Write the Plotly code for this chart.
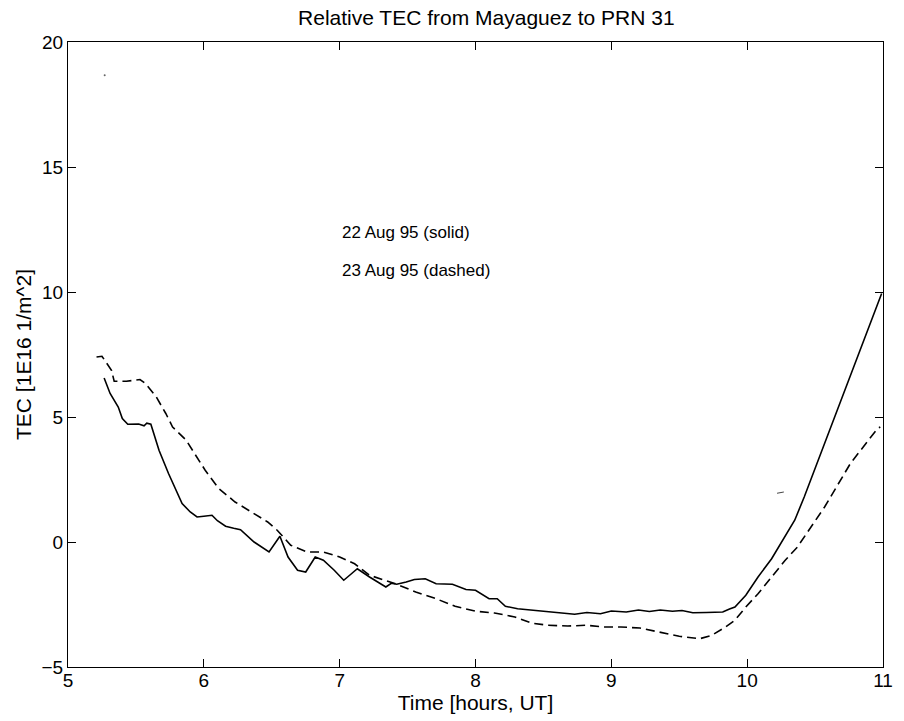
import plotly.graph_objects as go

# 22 Aug 95 (solid)
t_solid = [5.266, 5.31, 5.37, 5.40, 5.44, 5.52, 5.56, 5.58, 5.61, 5.67, 5.74, 5.84, 5.90, 5.95,
           6.00, 6.06, 6.10, 6.16, 6.22, 6.27, 6.37, 6.48, 6.56, 6.62, 6.69, 6.75, 6.82, 6.88,
           6.96, 7.03, 7.08, 7.13, 7.22, 7.34, 7.38, 7.42, 7.49, 7.55, 7.63, 7.71, 7.83, 7.93,
           8.00, 8.10, 8.16, 8.22, 8.31, 8.48, 8.60, 8.73, 8.82, 8.92, 9.00, 9.11, 9.20, 9.28,
           9.36, 9.45, 9.52, 9.60, 9.70, 9.82, 9.87, 9.91,
           9.99, 10.08, 10.18, 10.28, 10.35, 10.42, 10.57, 10.74, 10.99]
v_solid = [6.56, 5.94, 5.4, 4.94, 4.71, 4.72, 4.65, 4.75, 4.71, 3.67, 2.74, 1.54, 1.2, 1.0,
           1.03, 1.07, 0.85, 0.63, 0.55, 0.49, 0.0, -0.4, 0.23, -0.6, -1.13, -1.2, -0.6, -0.73,
           -1.13, -1.53, -1.3, -1.07, -1.4, -1.8, -1.65, -1.69, -1.6, -1.5, -1.47, -1.67, -1.69, -1.9,
           -1.93, -2.27, -2.27, -2.57, -2.67, -2.76, -2.84, -2.89, -2.82, -2.87, -2.76, -2.8, -2.72, -2.78,
           -2.72, -2.77, -2.74, -2.83, -2.82, -2.8, -2.68, -2.6,
           -2.13, -1.4, -0.67, 0.27, 0.87, 1.8, 3.94, 6.34, 9.94]

# 23 Aug 95 (dashed)
t_dashed = [5.21, 5.25, 5.32, 5.34, 5.43, 5.53, 5.57, 5.65, 5.72, 5.77, 5.87, 5.94, 6.01, 6.11,
            6.23, 6.35, 6.47, 6.54, 6.64, 6.76, 6.88, 7.00, 7.11, 7.22, 7.31, 7.42, 7.56, 7.71,
            7.85, 8.00, 8.14, 8.29, 8.41, 8.53, 8.68, 8.82, 8.94, 9.07, 9.21, 9.36, 9.50, 9.65,
            9.74, 9.84, 9.91, 9.99, 10.08, 10.18, 10.28, 10.37, 10.47, 10.57, 10.76, 10.96, 10.98]
v_dashed = [7.4, 7.43, 6.87, 6.43, 6.43, 6.5, 6.34, 5.8, 5.14, 4.6, 4.07, 3.47, 2.87, 2.14,
            1.6, 1.2, 0.8, 0.47, -0.13, -0.4, -0.4, -0.6, -0.87, -1.33, -1.49, -1.69, -2.0, -2.27,
            -2.57, -2.77, -2.84, -3.0, -3.24, -3.33, -3.36, -3.33, -3.4, -3.4, -3.44, -3.6, -3.77, -3.87,
            -3.73, -3.4, -3.13, -2.6, -2.07, -1.4, -0.73, -0.2, 0.6, 1.4, 3.14, 4.54, 4.6]

# stray marks in the original
t_stray = [10.22, 10.27]
v_stray = [1.95, 2.0]
t_dot = [5.27]
v_dot = [18.67]

x_ticks = [5, 6, 7, 8, 9, 10, 11]
y_ticks = [-5, 0, 5, 10, 15, 20]

font = "Liberation Sans, Arial, sans-serif"

fig = go.Figure()
fig.add_trace(go.Scatter(x=t_solid, y=v_solid, mode="lines",
                         line=dict(color="black", width=1.6), showlegend=False))
fig.add_trace(go.Scatter(x=t_dashed, y=v_dashed, mode="lines",
                         line=dict(color="black", width=1.6, dash="9px,5px"), showlegend=False))
fig.add_trace(go.Scatter(x=t_stray, y=v_stray, mode="lines",
                         line=dict(color="#444", width=1), showlegend=False))
fig.add_trace(go.Scatter(x=t_dot, y=v_dot, mode="markers",
                         marker=dict(color="#666", size=2), showlegend=False))

fig.add_annotation(x=7.0, y=12.4, text="22 Aug 95 (solid)", showarrow=False,
                   xanchor="left", yanchor="middle", font=dict(size=17, color="black", family=font))
fig.add_annotation(x=7.0, y=10.87, text="23 Aug 95 (dashed)", showarrow=False,
                   xanchor="left", yanchor="middle", font=dict(size=17, color="black", family=font))

axis_common = dict(showgrid=False, zeroline=False, showline=True, linecolor="black", linewidth=1,
                   mirror="ticks", ticks="inside", ticklen=8, tickcolor="black",
                   tickfont=dict(size=19, color="black", family=font))

fig.update_layout(
    width=904, height=721,
    margin=dict(l=68, r=11, t=42, b=54),
    paper_bgcolor="white", plot_bgcolor="white",
    title=dict(text="Relative TEC from Mayaguez to PRN 31", x=0.538, xanchor="center",
               y=0.975, yanchor="middle", font=dict(size=21, color="black", family=font)),
    xaxis=dict(range=[5, 11], tickvals=x_ticks, ticklabelstandoff=-4,
               title=dict(text="Time [hours, UT]", font=dict(size=21, color="black", family=font), standoff=0),
               **axis_common),
    yaxis=dict(range=[-5, 20], tickvals=y_ticks,
               title=dict(text="TEC [1E16 1/m^2]", font=dict(size=21, color="black", family=font), standoff=4),
               **axis_common),
)

fig.write_html("out.html")
